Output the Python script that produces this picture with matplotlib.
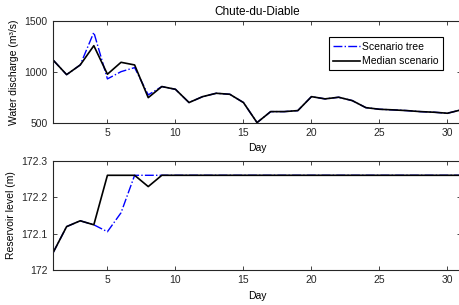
import matplotlib.pyplot as plt

days = list(range(1, 32))

# water discharge (m3/s)
median_q = [1118, 974, 1069, 1258, 978, 1095, 1069, 748, 857, 830,
            700, 758, 791, 781, 700, 503, 611, 611, 621, 758,
            736, 752, 719, 650, 634, 628, 621, 611, 605, 595, 628]
tree_q = [1118, 974, 1069, 1389, 932, 1003, 1043, 775, 857, 830,
          700, 758, 791, 781, 700, 503, 611, 611, 621, 758,
          736, 752, 719, 650, 634, 628, 621, 611, 605, 595, 628]

# reservoir level (m)
median_h = [172.047, 172.119, 172.135, 172.124, 172.26, 172.26, 172.26, 172.229, 172.26] + [172.26] * 22
tree_h = [172.047, 172.119, 172.135, 172.124, 172.105, 172.157, 172.26, 172.26, 172.26] + [172.26] * 22

plt.rcParams['font.family'] = 'Liberation Sans'
plt.rcParams['font.size'] = 7.5

fig = plt.figure(figsize=(4.59, 3.05), dpi=100)
ax1 = fig.add_axes([0.1155, 0.597, 0.889, 0.334])
ax2 = fig.add_axes([0.1155, 0.115, 0.889, 0.358])

ax1.plot(days, tree_q, color='blue', linestyle='-.', linewidth=1.0, label='Scenario tree')
ax1.plot(days, median_q, color='black', linestyle='-', linewidth=1.2, label='Median scenario')
ax1.set_xlim(1, 31)
ax1.set_ylim(500, 1500)
ax1.set_yticks([500, 1000, 1500])
ax1.set_xticks([5, 10, 15, 20, 25, 30])
ax1.set_xlabel('Day', labelpad=3)
ax1.set_ylabel('Water discharge (m³/s)')
ax1.set_title('Chute-du-Diable', fontsize=8.5, pad=4)
leg = ax1.legend(loc='upper right', bbox_to_anchor=(0.955, 0.84), fancybox=False,
                 edgecolor='black', framealpha=1, fontsize=7.5, handlelength=2.6,
                 borderpad=0.4, labelspacing=0.45, handletextpad=0.2, borderaxespad=0)
leg.get_frame().set_linewidth(0.8)

ax2.plot(days, tree_h, color='blue', linestyle='-.', linewidth=1.0)
ax2.plot(days, median_h, color='black', linestyle='-', linewidth=1.2)
ax2.set_xlim(1, 31)
ax2.set_ylim(172, 172.3)
ax2.set_yticks([172, 172.1, 172.2, 172.3])
ax2.set_yticklabels(['172', '172.1', '172.2', '172.3'])
ax2.set_xticks([5, 10, 15, 20, 25, 30])
ax2.set_xlabel('Day', labelpad=4)
ax2.set_ylabel('Reservoir level (m)')

for ax in (ax1, ax2):
    ax.tick_params(direction='in', top=True, right=True, length=3, width=0.6,
                   colors='#262626', labelcolor='#262626', pad=4)
    for s in ax.spines.values():
        s.set_linewidth(0.8)
        s.set_color('#262626')

fig.savefig('out.png', dpi=100)
